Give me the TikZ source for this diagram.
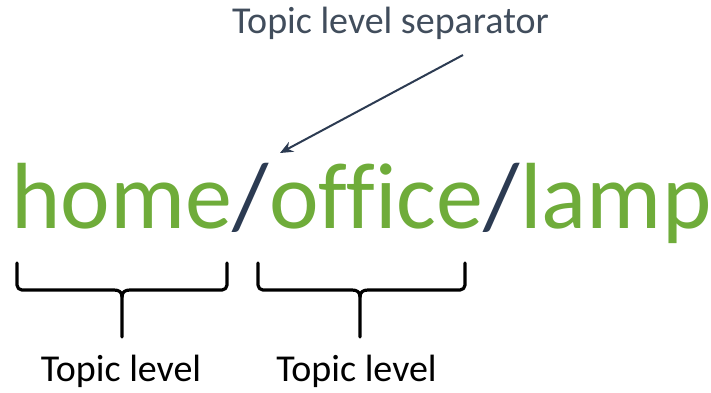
\documentclass[tikz,border=0pt]{standalone}
\usepackage{fontspec}
\setmainfont{Carlito}[Ligatures=CommonOff]
\usetikzlibrary{arrows.meta}
\definecolor{topicgreen}{HTML}{6FAC3A}
\definecolor{sepblue}{HTML}{2C3B52}
\definecolor{slate}{HTML}{414D5C}
\tikzset{
  big/.style={inner sep=0pt, anchor=base west, font=\fontsize{94}{94}\selectfont},
  word/.style={big, text=topicgreen},
  slashsym/.style={big, text=sepblue},
  caption/.style={inner sep=0pt, anchor=base, font=\fontsize{38}{38}\selectfont},
  bracket/.style={line width=3.2pt, black, line cap=round, line join=round},
  pointer/.style={line width=2pt, sepblue, -{Stealth[length=13pt, width=11pt]}}
}
\begin{document}
\begin{tikzpicture}[x=1pt, y=1pt]
\useasboundingbox (0,0) rectangle (711,392);
% main topic string
\node[word] (home) at (11,164) {home};
\node[slashsym] (s1) at (home.base east) {/};
\node[word] (office) at (s1.base east) {office};
\node[slashsym] (s2) at (office.base east) {/};
\node[word] (lamp) at (s2.base east) {lamp};
% top caption and arrow
\node[caption, text=slate] (septext) at (390.5,359) {Topic level separator};
\coordinate (arrstart) at (463,337);
\coordinate (arrtip) at (280,239);
\draw[pointer] (arrstart) -- (arrtip);
% braces
\coordinate (b1tip) at (122,55);
\coordinate (b2tip) at (360,55);
\draw[bracket] (17,129) -- (17,107) arc[start angle=180, end angle=270, radius=5] -- (114,102)
  .. controls (119,102) and (122,100) .. (122,95) -- (b1tip);
\draw[bracket] (227,129) -- (227,107) arc[start angle=0, end angle=-90, radius=5] -- (130,102)
  .. controls (125,102) and (122,100) .. (122,95);
\draw[bracket] (258,129) -- (258,107) arc[start angle=180, end angle=270, radius=5] -- (352,102)
  .. controls (357,102) and (360,100) .. (360,95) -- (b2tip);
\draw[bracket] (465,129) -- (465,107) arc[start angle=0, end angle=-90, radius=5] -- (368,102)
  .. controls (363,102) and (360,100) .. (360,95);
% bottom captions
\node[caption, text=black] (lvl1) at (121,11) {Topic level};
\node[caption, text=black] (lvl2) at (356.5,11) {Topic level};
\end{tikzpicture}
\end{document}
